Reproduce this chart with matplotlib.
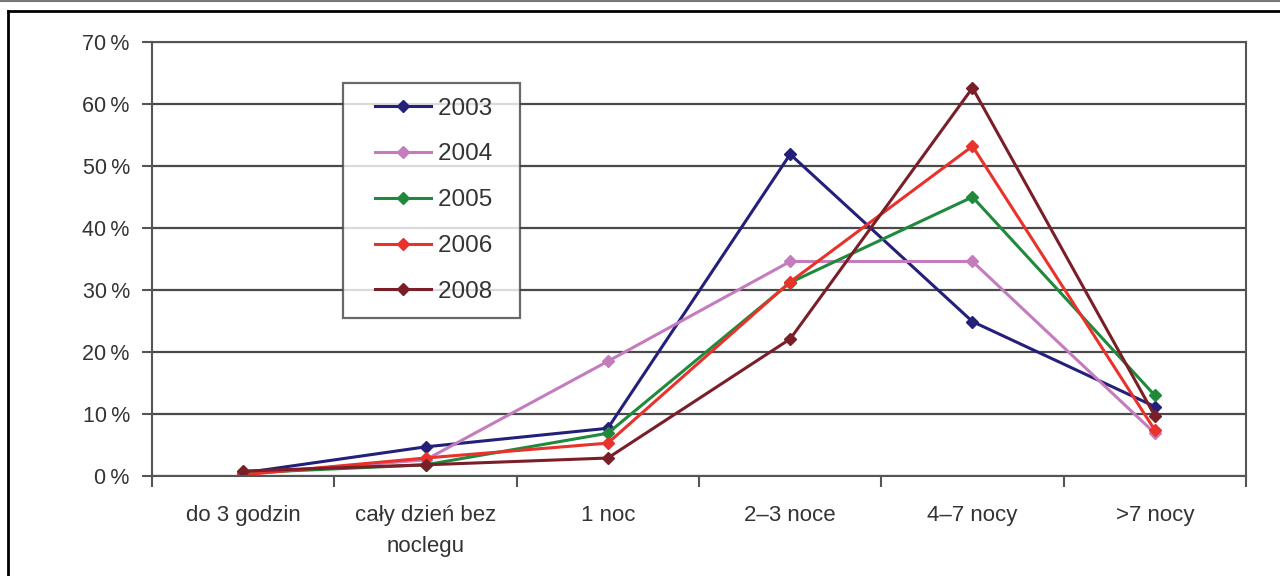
import matplotlib.pyplot as plt
from matplotlib.lines import Line2D
from matplotlib.legend_handler import HandlerLine2D

plt.rcParams['font.family'] = ['Liberation Sans', 'DejaVu Sans']

categories = ['do 3 godzin', 'cały dzień bez\nnoclegu', '1 noc', '2–3 noce', '4–7 nocy', '>7 nocy']
years = ['2003', '2004', '2005', '2006', '2008']
v2003 = [0.5, 4.7, 7.7, 51.9, 24.9, 11.2]
v2004 = [0.3, 2.6, 18.5, 34.6, 34.6, 6.9]
v2005 = [0.5, 1.8, 6.9, 31.2, 45.0, 13.0]
v2006 = [0.2, 2.9, 5.3, 31.3, 53.2, 7.4]
v2008 = [0.8, 1.8, 2.9, 22.1, 62.6, 9.7]
colors = ['#24207a', '#c47cbf', '#1f8a3c', '#e8322b', '#7a1e28']

fig = plt.figure(figsize=(12.8, 5.76), dpi=100)
ax = fig.add_axes([152 / 1280, 1 - 476 / 576, 1094 / 1280, 434 / 576])

x = list(range(len(categories)))
lines = []
for vals, year, c in zip([v2003, v2004, v2005, v2006, v2008], years, colors):
    ln, = ax.plot(x, vals, color=c, lw=2.2, marker='D', ms=6, label=year)
    lines.append(ln)

ax.set_xlim(-0.5, 5.5)
ax.set_ylim(0, 70)
ax.set_yticks(range(0, 71, 10))
ax.set_yticklabels([f'{t}\u2009%' for t in range(0, 71, 10)], fontsize=15.5, color='#333333')
ax.yaxis.grid(True, color='#4a4a4a', lw=1.6)
ax.set_axisbelow(True)

ax.set_xticks(x)
ax.set_xticklabels(categories, fontsize=16, color='#333333', linespacing=1.6)
ax.tick_params(axis='x', which='major', length=0, pad=21)
ax.set_xticks([i - 0.5 for i in range(7)], minor=True)
ax.tick_params(axis='x', which='minor', length=8, width=1.5, color='#555555', direction='out')
ax.tick_params(axis='y', length=7, width=1.5, color='#555555', direction='out', pad=9)

for s in ax.spines.values():
    s.set_color('#555555')
    s.set_linewidth(1.5)

leg = ax.legend(lines, [y + '  ' for y in years],
                loc='upper left', bbox_to_anchor=(0.1746, 0.9055), fontsize=17.5,
                frameon=True, fancybox=False, edgecolor='#444444',
                labelspacing=0.98, handlelength=3.0, borderpad=0.6,
                borderaxespad=0, handletextpad=0.3, handleheight=0.7,
                handler_map={Line2D: HandlerLine2D(xpad=0.7)})
leg.get_frame().set_linewidth(1.6)
for t in leg.get_texts():
    t.set_color('#333333')

# outer frame lines
fig.add_artist(Line2D([0, 1], [1 - 1 / 576, 1 - 1 / 576], color='#777777', lw=1.5))
fig.add_artist(Line2D([8 / 1280, 1], [1 - 11 / 576, 1 - 11 / 576], color='black', lw=2))
fig.add_artist(Line2D([8 / 1280, 8 / 1280], [0, 1 - 11 / 576], color='black', lw=2))

fig.savefig('out.png', dpi=100, facecolor='white')
